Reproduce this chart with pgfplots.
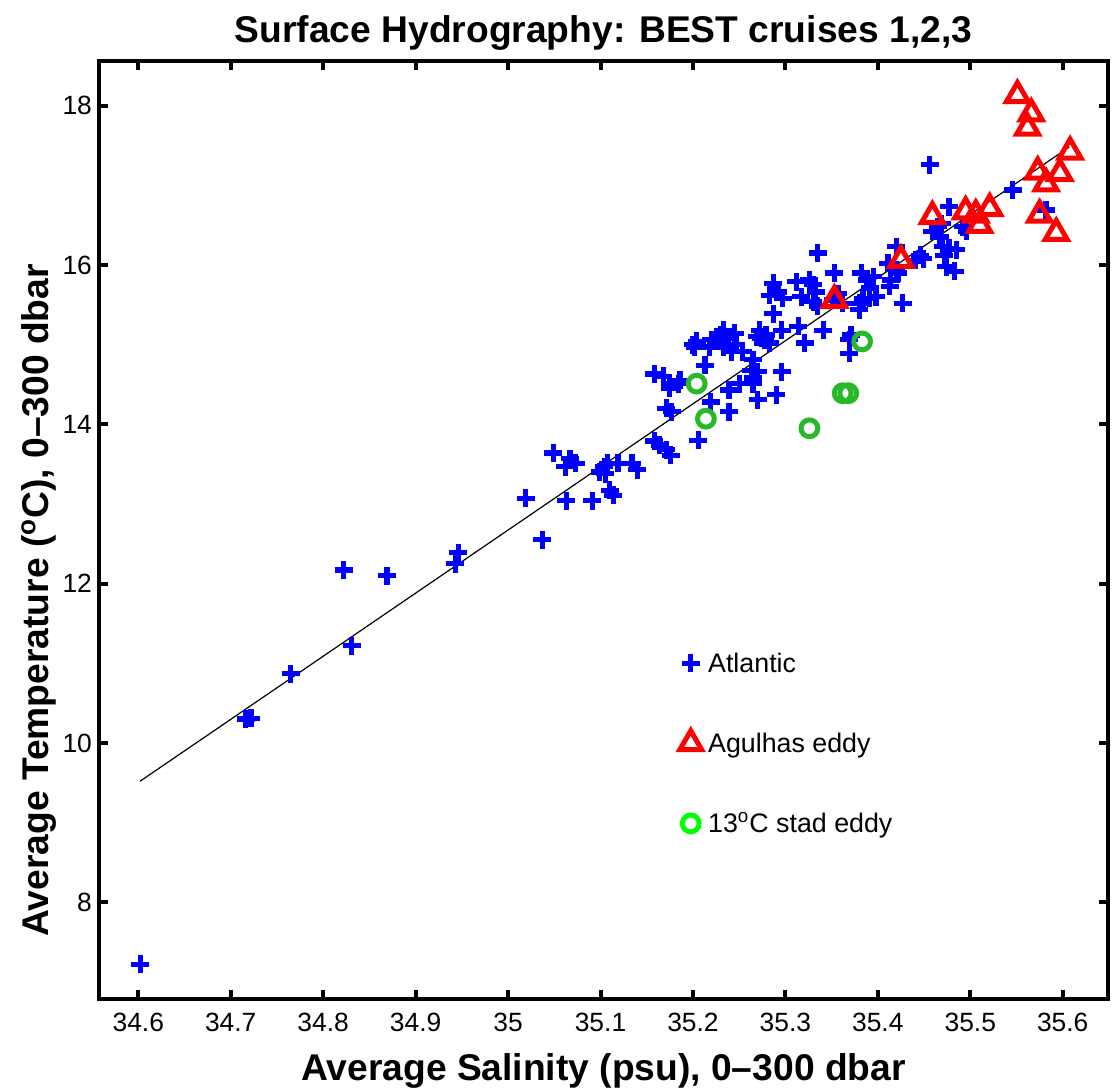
\documentclass[border=0pt]{standalone}
\usepackage{fontspec}
\setmainfont{Liberation Sans}
\usepackage{pgfplots}
\pgfplotsset{compat=1.18}
\definecolor{mblue}{rgb}{0,0,1}
\definecolor{mred}{rgb}{1,0,0}
\definecolor{mgreen}{rgb}{0.16,0.72,0.16}
\definecolor{lgreen}{rgb}{0,1,0}

\pgfplotstableread{
x y
34.602 7.22
34.716 10.30
34.722 10.31
34.765 10.87
34.822 12.17
34.831 11.22
34.869 12.10
34.943 12.25
34.946 12.39
35.019 13.07
35.037 12.55
35.049 13.64
35.063 13.04
35.062 13.47
35.067 13.57
35.073 13.51
35.091 13.04
35.099 13.40
35.104 13.47
35.105 13.38
35.108 13.51
35.110 13.17
35.114 13.11
35.119 13.51
35.134 13.51
35.140 13.43
35.158 13.79
35.164 13.74
35.171 13.68
35.176 13.61
35.206 13.80
35.171 14.20
35.177 14.16
35.158 14.63
35.168 14.60
35.175 14.51
35.175 14.45
35.184 14.51
35.186 14.55
35.200 15.00
35.202 14.97
35.204 15.04
35.213 14.74
35.219 14.28
35.239 14.16
35.239 14.43
35.250 14.51
35.218 14.97
35.220 15.06
35.227 15.04
35.230 15.12
35.233 15.18
35.233 14.97
35.234 15.08
35.237 14.99
35.238 15.10
35.242 14.91
35.245 15.14
35.247 15.00
35.254 14.91
35.263 14.68
35.265 14.81
35.265 14.58
35.265 14.51
35.270 14.66
35.270 14.31
35.290 14.37
35.296 14.66
35.269 15.10
35.272 15.18
35.274 15.08
35.278 15.06
35.279 15.12
35.283 15.02
35.296 15.18
35.314 15.23
35.321 15.02
35.341 15.18
35.369 15.06
35.371 15.12
35.369 14.89
35.283 15.62
35.287 15.77
35.292 15.66
35.297 15.58
35.287 15.39
35.312 15.79
35.326 15.81
35.330 15.75
35.333 15.66
35.317 15.60
35.330 15.54
35.335 15.48
35.335 16.15
35.351 15.56
35.362 15.52
35.353 15.90
35.357 15.64
35.380 15.52
35.382 15.90
35.383 15.52
35.384 15.58
35.388 15.81
35.391 15.71
35.391 15.58
35.395 15.85
35.398 15.60
35.380 15.44
35.411 16.02
35.413 15.73
35.414 15.81
35.420 15.94
35.422 15.90
35.420 16.23
35.427 15.52
35.441 16.06
35.446 16.12
35.449 16.08
35.456 17.26
35.459 16.42
35.465 16.48
35.467 16.35
35.469 16.52
35.470 16.23
35.472 16.12
35.474 15.98
35.477 16.21
35.477 16.73
35.483 15.92
35.485 16.19
35.492 16.48
35.496 16.42
35.546 16.94
35.582 16.69
}\atlantic

\pgfplotstableread{
x y
35.353 15.56
35.425 16.06
35.459 16.61
35.495 16.67
35.506 16.63
35.510 16.50
35.521 16.71
35.551 18.13
35.566 17.90
35.562 17.72
35.608 17.42
35.573 17.17
35.597 17.15
35.582 17.02
35.575 16.63
35.593 16.40
}\agulhas

\pgfplotstableread{
x y
35.204 14.51
35.214 14.07
35.326 13.95
35.362 14.39
35.368 14.39
35.383 15.04
}\stad

\begin{document}
\begin{tikzpicture}
\path[use as bounding box] (-49.5pt,-44pt) rectangle (506.5pt,499.5pt);
\begin{axis}[
  scale only axis, width=504.5pt, height=469pt,
  xmin=34.5575, xmax=35.649, ymin=6.786, ymax=18.56,
  axis line style={line width=2pt, line cap=rect},
  tick style={line width=2pt, black},
  major tick length=4.5pt,
  tick align=inside,
  xtick={34.6,34.7,34.8,34.9,35,35.1,35.2,35.3,35.4,35.5,35.6},
  xticklabels={34.6,34.7,34.8,34.9,35,35.1,35.2,35.3,35.4,35.5,35.6},
  ytick={8,10,12,14,16,18},
  yticklabels={8,10,12,14,16,18},
  /pgf/number format/assume math mode=true,
  tick label style={font=\fontsize{13.2}{14}\selectfont},
  xticklabel style={yshift=-3.5pt},
  every axis title shift=0pt,
  title={Surface Hydrography: BEST cruises 1,2,3},
  title style={font=\bfseries\fontsize{18.6}{20}\selectfont, at={(axis description cs:0.5,1.0192)}, anchor=base},
  xlabel={Average Salinity (psu), 0--300 dbar},
  xlabel style={font=\bfseries\fontsize{18.6}{20}\selectfont, at={(axis description cs:0.5,-0.0864)}, anchor=base},
  ylabel={Average Temperature (\textsuperscript{o}C), 0--300 dbar},
  ylabel style={font=\bfseries\fontsize{18.6}{20}\selectfont, at={(axis description cs:-0.0505,0.425)}, anchor=base},
  legend image code/.code={\draw[#1] plot coordinates {(0pt,0pt)};},
  legend cell align=left,
  legend style={draw=none, fill=none, inner sep=0pt,
    at={(axis cs:35.1854,11.255)}, anchor=north west,
    font=\fontsize{13.4}{14}\selectfont,
    row sep=20pt,
    nodes={inner sep=0pt, text height=14.6pt, text depth=5.4pt},
    /tikz/every odd column/.append style={column sep=3.25pt}},
]
\addplot[only marks, mark=+, mark size=4.5pt, color=mblue, mark options={line width=2.6pt, line cap=butt}] table[x=x,y=y] {\atlantic};
\addlegendentry{Atlantic}
\addplot[only marks, mark=triangle, mark size=6.3pt, color=mred, mark options={line width=2.5pt, line join=miter}] table[x=x,y=y] {\agulhas};
\addlegendentry{Agulhas eddy}
\addplot[forget plot, only marks, mark=o, mark size=4.2pt, color=mgreen, mark options={line width=2.5pt}] table[x=x,y=y] {\stad};
\addplot[forget plot, black, line width=0.6pt] coordinates {(34.602,9.52) (35.607,17.48)};
\addlegendimage{only marks, mark=o, mark size=4.2pt, color=lgreen, mark options={line width=2.5pt}}
\addlegendentry{13\textsuperscript{o}C stad eddy}
\end{axis}
\end{tikzpicture}
\end{document}
